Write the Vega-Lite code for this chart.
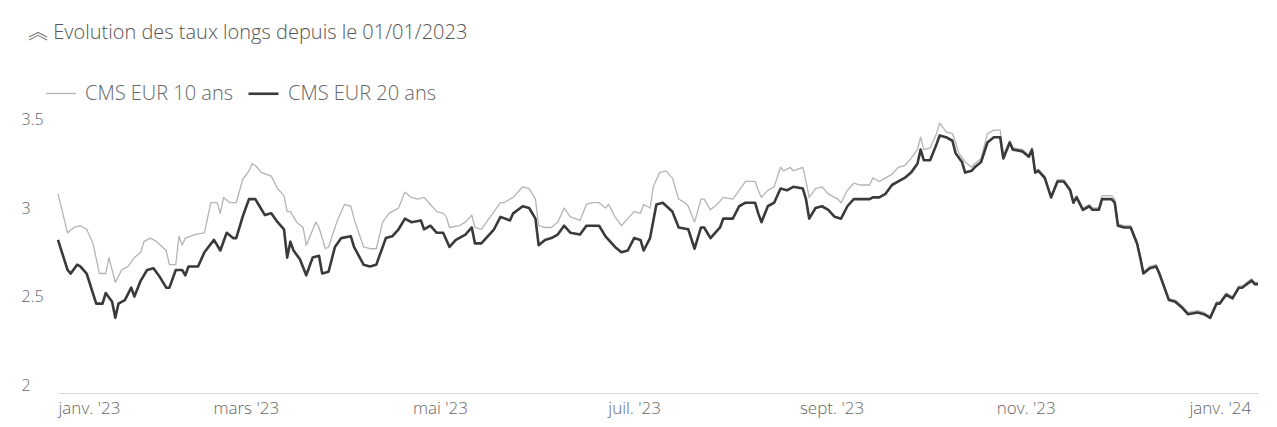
{
  "$schema": "https://vega.github.io/schema/vega-lite/v6.json",
  "width": 1200,
  "height": 288,
  "autosize": {"type": "none"},
  "padding": {"left": 58, "top": 105, "right": 19, "bottom": 34},
  "background": "white",
  "config": {"view": {"stroke": null}, "font": "Open Sans"},
  "title": {
    "text": "︽ Evolution des taux longs depuis le 01/01/2023",
    "anchor": "start",
    "dx": 7,
    "offset": 34,
    "font": "Open Sans, Noto Sans CJK SC",
    "fontSize": 20,
    "fontWeight": 300,
    "color": "#555555"
  },
  "data": {
    "values": [
      {"date": "2023-01-01", "serie": "10 ans", "taux": 3.08},
      {"date": "2023-01-04", "serie": "10 ans", "taux": 2.86},
      {"date": "2023-01-06", "serie": "10 ans", "taux": 2.89},
      {"date": "2023-01-08", "serie": "10 ans", "taux": 2.90},
      {"date": "2023-01-10", "serie": "10 ans", "taux": 2.88},
      {"date": "2023-01-12", "serie": "10 ans", "taux": 2.80},
      {"date": "2023-01-14", "serie": "10 ans", "taux": 2.63},
      {"date": "2023-01-16", "serie": "10 ans", "taux": 2.63},
      {"date": "2023-01-17", "serie": "10 ans", "taux": 2.72},
      {"date": "2023-01-19", "serie": "10 ans", "taux": 2.58},
      {"date": "2023-01-21", "serie": "10 ans", "taux": 2.65},
      {"date": "2023-01-23", "serie": "10 ans", "taux": 2.67},
      {"date": "2023-01-25", "serie": "10 ans", "taux": 2.72},
      {"date": "2023-01-27", "serie": "10 ans", "taux": 2.75},
      {"date": "2023-01-28", "serie": "10 ans", "taux": 2.81},
      {"date": "2023-01-30", "serie": "10 ans", "taux": 2.83},
      {"date": "2023-02-01", "serie": "10 ans", "taux": 2.81},
      {"date": "2023-02-04", "serie": "10 ans", "taux": 2.76},
      {"date": "2023-02-05", "serie": "10 ans", "taux": 2.68},
      {"date": "2023-02-07", "serie": "10 ans", "taux": 2.68},
      {"date": "2023-02-08", "serie": "10 ans", "taux": 2.84},
      {"date": "2023-02-09", "serie": "10 ans", "taux": 2.79},
      {"date": "2023-02-10", "serie": "10 ans", "taux": 2.83},
      {"date": "2023-02-13", "serie": "10 ans", "taux": 2.85},
      {"date": "2023-02-16", "serie": "10 ans", "taux": 2.86},
      {"date": "2023-02-18", "serie": "10 ans", "taux": 3.03},
      {"date": "2023-02-20", "serie": "10 ans", "taux": 3.03},
      {"date": "2023-02-21", "serie": "10 ans", "taux": 2.97},
      {"date": "2023-02-22", "serie": "10 ans", "taux": 3.06},
      {"date": "2023-02-24", "serie": "10 ans", "taux": 3.03},
      {"date": "2023-02-26", "serie": "10 ans", "taux": 3.03},
      {"date": "2023-02-28", "serie": "10 ans", "taux": 3.16},
      {"date": "2023-03-02", "serie": "10 ans", "taux": 3.21},
      {"date": "2023-03-03", "serie": "10 ans", "taux": 3.25},
      {"date": "2023-03-04", "serie": "10 ans", "taux": 3.24},
      {"date": "2023-03-06", "serie": "10 ans", "taux": 3.20},
      {"date": "2023-03-09", "serie": "10 ans", "taux": 3.18},
      {"date": "2023-03-11", "serie": "10 ans", "taux": 3.11},
      {"date": "2023-03-13", "serie": "10 ans", "taux": 3.07},
      {"date": "2023-03-14", "serie": "10 ans", "taux": 2.98},
      {"date": "2023-03-15", "serie": "10 ans", "taux": 2.98},
      {"date": "2023-03-17", "serie": "10 ans", "taux": 2.92},
      {"date": "2023-03-19", "serie": "10 ans", "taux": 2.89},
      {"date": "2023-03-20", "serie": "10 ans", "taux": 2.79},
      {"date": "2023-03-23", "serie": "10 ans", "taux": 2.92},
      {"date": "2023-03-24", "serie": "10 ans", "taux": 2.89},
      {"date": "2023-03-26", "serie": "10 ans", "taux": 2.77},
      {"date": "2023-03-27", "serie": "10 ans", "taux": 2.78},
      {"date": "2023-03-29", "serie": "10 ans", "taux": 2.89},
      {"date": "2023-03-30", "serie": "10 ans", "taux": 2.94},
      {"date": "2023-04-01", "serie": "10 ans", "taux": 3.02},
      {"date": "2023-04-03", "serie": "10 ans", "taux": 3.01},
      {"date": "2023-04-04", "serie": "10 ans", "taux": 2.94},
      {"date": "2023-04-07", "serie": "10 ans", "taux": 2.78},
      {"date": "2023-04-09", "serie": "10 ans", "taux": 2.77},
      {"date": "2023-04-11", "serie": "10 ans", "taux": 2.77},
      {"date": "2023-04-13", "serie": "10 ans", "taux": 2.92},
      {"date": "2023-04-15", "serie": "10 ans", "taux": 2.97},
      {"date": "2023-04-18", "serie": "10 ans", "taux": 3.00},
      {"date": "2023-04-20", "serie": "10 ans", "taux": 3.09},
      {"date": "2023-04-22", "serie": "10 ans", "taux": 3.06},
      {"date": "2023-04-24", "serie": "10 ans", "taux": 3.05},
      {"date": "2023-04-26", "serie": "10 ans", "taux": 3.06},
      {"date": "2023-04-28", "serie": "10 ans", "taux": 3.02},
      {"date": "2023-04-30", "serie": "10 ans", "taux": 2.98},
      {"date": "2023-05-02", "serie": "10 ans", "taux": 2.97},
      {"date": "2023-05-03", "serie": "10 ans", "taux": 2.95},
      {"date": "2023-05-04", "serie": "10 ans", "taux": 2.89},
      {"date": "2023-05-07", "serie": "10 ans", "taux": 2.90},
      {"date": "2023-05-09", "serie": "10 ans", "taux": 2.92},
      {"date": "2023-05-11", "serie": "10 ans", "taux": 2.96},
      {"date": "2023-05-12", "serie": "10 ans", "taux": 2.89},
      {"date": "2023-05-14", "serie": "10 ans", "taux": 2.88},
      {"date": "2023-05-16", "serie": "10 ans", "taux": 2.93},
      {"date": "2023-05-18", "serie": "10 ans", "taux": 2.98},
      {"date": "2023-05-20", "serie": "10 ans", "taux": 3.03},
      {"date": "2023-05-21", "serie": "10 ans", "taux": 3.03},
      {"date": "2023-05-24", "serie": "10 ans", "taux": 3.06},
      {"date": "2023-05-27", "serie": "10 ans", "taux": 3.12},
      {"date": "2023-05-29", "serie": "10 ans", "taux": 3.11},
      {"date": "2023-05-31", "serie": "10 ans", "taux": 3.05},
      {"date": "2023-06-01", "serie": "10 ans", "taux": 2.90},
      {"date": "2023-06-03", "serie": "10 ans", "taux": 2.89},
      {"date": "2023-06-05", "serie": "10 ans", "taux": 2.89},
      {"date": "2023-06-07", "serie": "10 ans", "taux": 2.92},
      {"date": "2023-06-09", "serie": "10 ans", "taux": 3.00},
      {"date": "2023-06-11", "serie": "10 ans", "taux": 2.95},
      {"date": "2023-06-14", "serie": "10 ans", "taux": 2.93},
      {"date": "2023-06-16", "serie": "10 ans", "taux": 3.02},
      {"date": "2023-06-18", "serie": "10 ans", "taux": 3.03},
      {"date": "2023-06-20", "serie": "10 ans", "taux": 3.03},
      {"date": "2023-06-22", "serie": "10 ans", "taux": 3.00},
      {"date": "2023-06-23", "serie": "10 ans", "taux": 3.02},
      {"date": "2023-06-25", "serie": "10 ans", "taux": 2.95},
      {"date": "2023-06-27", "serie": "10 ans", "taux": 2.90},
      {"date": "2023-06-29", "serie": "10 ans", "taux": 2.94},
      {"date": "2023-07-01", "serie": "10 ans", "taux": 2.98},
      {"date": "2023-07-03", "serie": "10 ans", "taux": 2.97},
      {"date": "2023-07-04", "serie": "10 ans", "taux": 3.02},
      {"date": "2023-07-06", "serie": "10 ans", "taux": 3.00},
      {"date": "2023-07-07", "serie": "10 ans", "taux": 3.12},
      {"date": "2023-07-09", "serie": "10 ans", "taux": 3.20},
      {"date": "2023-07-11", "serie": "10 ans", "taux": 3.21},
      {"date": "2023-07-13", "serie": "10 ans", "taux": 3.17},
      {"date": "2023-07-15", "serie": "10 ans", "taux": 3.05},
      {"date": "2023-07-17", "serie": "10 ans", "taux": 3.03},
      {"date": "2023-07-18", "serie": "10 ans", "taux": 3.01},
      {"date": "2023-07-20", "serie": "10 ans", "taux": 2.92},
      {"date": "2023-07-22", "serie": "10 ans", "taux": 3.05},
      {"date": "2023-07-23", "serie": "10 ans", "taux": 3.05},
      {"date": "2023-07-25", "serie": "10 ans", "taux": 2.99},
      {"date": "2023-07-27", "serie": "10 ans", "taux": 3.02},
      {"date": "2023-07-29", "serie": "10 ans", "taux": 3.06},
      {"date": "2023-08-01", "serie": "10 ans", "taux": 3.05},
      {"date": "2023-08-03", "serie": "10 ans", "taux": 3.10},
      {"date": "2023-08-05", "serie": "10 ans", "taux": 3.15},
      {"date": "2023-08-08", "serie": "10 ans", "taux": 3.15},
      {"date": "2023-08-09", "serie": "10 ans", "taux": 3.10},
      {"date": "2023-08-10", "serie": "10 ans", "taux": 3.06},
      {"date": "2023-08-12", "serie": "10 ans", "taux": 3.10},
      {"date": "2023-08-14", "serie": "10 ans", "taux": 3.12},
      {"date": "2023-08-16", "serie": "10 ans", "taux": 3.23},
      {"date": "2023-08-17", "serie": "10 ans", "taux": 3.21},
      {"date": "2023-08-19", "serie": "10 ans", "taux": 3.23},
      {"date": "2023-08-20", "serie": "10 ans", "taux": 3.21},
      {"date": "2023-08-23", "serie": "10 ans", "taux": 3.23},
      {"date": "2023-08-24", "serie": "10 ans", "taux": 3.15},
      {"date": "2023-08-25", "serie": "10 ans", "taux": 3.06},
      {"date": "2023-08-27", "serie": "10 ans", "taux": 3.11},
      {"date": "2023-08-29", "serie": "10 ans", "taux": 3.12},
      {"date": "2023-08-31", "serie": "10 ans", "taux": 3.08},
      {"date": "2023-09-03", "serie": "10 ans", "taux": 3.05},
      {"date": "2023-09-04", "serie": "10 ans", "taux": 3.03},
      {"date": "2023-09-06", "serie": "10 ans", "taux": 3.10},
      {"date": "2023-09-08", "serie": "10 ans", "taux": 3.14},
      {"date": "2023-09-10", "serie": "10 ans", "taux": 3.13},
      {"date": "2023-09-13", "serie": "10 ans", "taux": 3.13},
      {"date": "2023-09-14", "serie": "10 ans", "taux": 3.17},
      {"date": "2023-09-16", "serie": "10 ans", "taux": 3.15},
      {"date": "2023-09-18", "serie": "10 ans", "taux": 3.17},
      {"date": "2023-09-20", "serie": "10 ans", "taux": 3.19},
      {"date": "2023-09-22", "serie": "10 ans", "taux": 3.23},
      {"date": "2023-09-24", "serie": "10 ans", "taux": 3.24},
      {"date": "2023-09-26", "serie": "10 ans", "taux": 3.28},
      {"date": "2023-09-28", "serie": "10 ans", "taux": 3.33},
      {"date": "2023-09-29", "serie": "10 ans", "taux": 3.40},
      {"date": "2023-09-30", "serie": "10 ans", "taux": 3.33},
      {"date": "2023-10-02", "serie": "10 ans", "taux": 3.34},
      {"date": "2023-10-04", "serie": "10 ans", "taux": 3.42},
      {"date": "2023-10-05", "serie": "10 ans", "taux": 3.48},
      {"date": "2023-10-07", "serie": "10 ans", "taux": 3.43},
      {"date": "2023-10-09", "serie": "10 ans", "taux": 3.42},
      {"date": "2023-10-10", "serie": "10 ans", "taux": 3.37},
      {"date": "2023-10-11", "serie": "10 ans", "taux": 3.31},
      {"date": "2023-10-13", "serie": "10 ans", "taux": 3.26},
      {"date": "2023-10-15", "serie": "10 ans", "taux": 3.23},
      {"date": "2023-10-16", "serie": "10 ans", "taux": 3.25},
      {"date": "2023-10-18", "serie": "10 ans", "taux": 3.28},
      {"date": "2023-10-20", "serie": "10 ans", "taux": 3.42},
      {"date": "2023-10-22", "serie": "10 ans", "taux": 3.44},
      {"date": "2023-10-24", "serie": "10 ans", "taux": 3.44},
      {"date": "2023-10-25", "serie": "10 ans", "taux": 3.30},
      {"date": "2023-10-27", "serie": "10 ans", "taux": 3.38},
      {"date": "2023-10-28", "serie": "10 ans", "taux": 3.34},
      {"date": "2023-10-31", "serie": "10 ans", "taux": 3.33},
      {"date": "2023-11-02", "serie": "10 ans", "taux": 3.30},
      {"date": "2023-11-03", "serie": "10 ans", "taux": 3.34},
      {"date": "2023-11-04", "serie": "10 ans", "taux": 3.21},
      {"date": "2023-11-05", "serie": "10 ans", "taux": 3.22},
      {"date": "2023-11-07", "serie": "10 ans", "taux": 3.18},
      {"date": "2023-11-09", "serie": "10 ans", "taux": 3.07},
      {"date": "2023-11-11", "serie": "10 ans", "taux": 3.16},
      {"date": "2023-11-13", "serie": "10 ans", "taux": 3.16},
      {"date": "2023-11-15", "serie": "10 ans", "taux": 3.11},
      {"date": "2023-11-16", "serie": "10 ans", "taux": 3.04},
      {"date": "2023-11-17", "serie": "10 ans", "taux": 3.07},
      {"date": "2023-11-19", "serie": "10 ans", "taux": 3.00},
      {"date": "2023-11-21", "serie": "10 ans", "taux": 3.02},
      {"date": "2023-11-22", "serie": "10 ans", "taux": 3.00},
      {"date": "2023-11-24", "serie": "10 ans", "taux": 3.00},
      {"date": "2023-11-25", "serie": "10 ans", "taux": 3.07},
      {"date": "2023-11-28", "serie": "10 ans", "taux": 3.07},
      {"date": "2023-11-29", "serie": "10 ans", "taux": 3.05},
      {"date": "2023-11-30", "serie": "10 ans", "taux": 2.91},
      {"date": "2023-12-02", "serie": "10 ans", "taux": 2.90},
      {"date": "2023-12-04", "serie": "10 ans", "taux": 2.90},
      {"date": "2023-12-06", "serie": "10 ans", "taux": 2.81},
      {"date": "2023-12-07", "serie": "10 ans", "taux": 2.73},
      {"date": "2023-12-08", "serie": "10 ans", "taux": 2.64},
      {"date": "2023-12-10", "serie": "10 ans", "taux": 2.67},
      {"date": "2023-12-12", "serie": "10 ans", "taux": 2.68},
      {"date": "2023-12-13", "serie": "10 ans", "taux": 2.64},
      {"date": "2023-12-16", "serie": "10 ans", "taux": 2.49},
      {"date": "2023-12-18", "serie": "10 ans", "taux": 2.48},
      {"date": "2023-12-20", "serie": "10 ans", "taux": 2.45},
      {"date": "2023-12-22", "serie": "10 ans", "taux": 2.41},
      {"date": "2023-12-25", "serie": "10 ans", "taux": 2.42},
      {"date": "2023-12-27", "serie": "10 ans", "taux": 2.41},
      {"date": "2023-12-29", "serie": "10 ans", "taux": 2.39},
      {"date": "2023-12-31", "serie": "10 ans", "taux": 2.47},
      {"date": "2024-01-01", "serie": "10 ans", "taux": 2.47},
      {"date": "2024-01-03", "serie": "10 ans", "taux": 2.52},
      {"date": "2024-01-05", "serie": "10 ans", "taux": 2.50},
      {"date": "2024-01-07", "serie": "10 ans", "taux": 2.56},
      {"date": "2024-01-08", "serie": "10 ans", "taux": 2.56},
      {"date": "2024-01-11", "serie": "10 ans", "taux": 2.60},
      {"date": "2024-01-12", "serie": "10 ans", "taux": 2.58},
      {"date": "2024-01-13", "serie": "10 ans", "taux": 2.58},

      {"date": "2023-01-01", "serie": "20 ans", "taux": 2.82},
      {"date": "2023-01-04", "serie": "20 ans", "taux": 2.65},
      {"date": "2023-01-05", "serie": "20 ans", "taux": 2.63},
      {"date": "2023-01-07", "serie": "20 ans", "taux": 2.68},
      {"date": "2023-01-08", "serie": "20 ans", "taux": 2.67},
      {"date": "2023-01-10", "serie": "20 ans", "taux": 2.63},
      {"date": "2023-01-13", "serie": "20 ans", "taux": 2.46},
      {"date": "2023-01-15", "serie": "20 ans", "taux": 2.46},
      {"date": "2023-01-16", "serie": "20 ans", "taux": 2.52},
      {"date": "2023-01-18", "serie": "20 ans", "taux": 2.47},
      {"date": "2023-01-19", "serie": "20 ans", "taux": 2.38},
      {"date": "2023-01-20", "serie": "20 ans", "taux": 2.46},
      {"date": "2023-01-22", "serie": "20 ans", "taux": 2.48},
      {"date": "2023-01-24", "serie": "20 ans", "taux": 2.55},
      {"date": "2023-01-25", "serie": "20 ans", "taux": 2.50},
      {"date": "2023-01-27", "serie": "20 ans", "taux": 2.59},
      {"date": "2023-01-29", "serie": "20 ans", "taux": 2.65},
      {"date": "2023-01-31", "serie": "20 ans", "taux": 2.66},
      {"date": "2023-02-02", "serie": "20 ans", "taux": 2.61},
      {"date": "2023-02-04", "serie": "20 ans", "taux": 2.55},
      {"date": "2023-02-05", "serie": "20 ans", "taux": 2.55},
      {"date": "2023-02-07", "serie": "20 ans", "taux": 2.65},
      {"date": "2023-02-09", "serie": "20 ans", "taux": 2.65},
      {"date": "2023-02-10", "serie": "20 ans", "taux": 2.62},
      {"date": "2023-02-11", "serie": "20 ans", "taux": 2.67},
      {"date": "2023-02-14", "serie": "20 ans", "taux": 2.67},
      {"date": "2023-02-16", "serie": "20 ans", "taux": 2.75},
      {"date": "2023-02-19", "serie": "20 ans", "taux": 2.82},
      {"date": "2023-02-21", "serie": "20 ans", "taux": 2.76},
      {"date": "2023-02-23", "serie": "20 ans", "taux": 2.86},
      {"date": "2023-02-25", "serie": "20 ans", "taux": 2.83},
      {"date": "2023-02-26", "serie": "20 ans", "taux": 2.83},
      {"date": "2023-02-28", "serie": "20 ans", "taux": 2.95},
      {"date": "2023-03-02", "serie": "20 ans", "taux": 3.05},
      {"date": "2023-03-04", "serie": "20 ans", "taux": 3.05},
      {"date": "2023-03-05", "serie": "20 ans", "taux": 3.02},
      {"date": "2023-03-07", "serie": "20 ans", "taux": 2.96},
      {"date": "2023-03-09", "serie": "20 ans", "taux": 2.97},
      {"date": "2023-03-11", "serie": "20 ans", "taux": 2.92},
      {"date": "2023-03-13", "serie": "20 ans", "taux": 2.88},
      {"date": "2023-03-14", "serie": "20 ans", "taux": 2.72},
      {"date": "2023-03-15", "serie": "20 ans", "taux": 2.81},
      {"date": "2023-03-16", "serie": "20 ans", "taux": 2.76},
      {"date": "2023-03-18", "serie": "20 ans", "taux": 2.71},
      {"date": "2023-03-20", "serie": "20 ans", "taux": 2.62},
      {"date": "2023-03-22", "serie": "20 ans", "taux": 2.72},
      {"date": "2023-03-24", "serie": "20 ans", "taux": 2.73},
      {"date": "2023-03-25", "serie": "20 ans", "taux": 2.63},
      {"date": "2023-03-27", "serie": "20 ans", "taux": 2.64},
      {"date": "2023-03-29", "serie": "20 ans", "taux": 2.78},
      {"date": "2023-03-31", "serie": "20 ans", "taux": 2.83},
      {"date": "2023-04-03", "serie": "20 ans", "taux": 2.84},
      {"date": "2023-04-04", "serie": "20 ans", "taux": 2.78},
      {"date": "2023-04-07", "serie": "20 ans", "taux": 2.68},
      {"date": "2023-04-09", "serie": "20 ans", "taux": 2.67},
      {"date": "2023-04-11", "serie": "20 ans", "taux": 2.68},
      {"date": "2023-04-14", "serie": "20 ans", "taux": 2.83},
      {"date": "2023-04-16", "serie": "20 ans", "taux": 2.84},
      {"date": "2023-04-18", "serie": "20 ans", "taux": 2.88},
      {"date": "2023-04-20", "serie": "20 ans", "taux": 2.94},
      {"date": "2023-04-22", "serie": "20 ans", "taux": 2.92},
      {"date": "2023-04-25", "serie": "20 ans", "taux": 2.93},
      {"date": "2023-04-26", "serie": "20 ans", "taux": 2.88},
      {"date": "2023-04-28", "serie": "20 ans", "taux": 2.90},
      {"date": "2023-04-30", "serie": "20 ans", "taux": 2.86},
      {"date": "2023-05-02", "serie": "20 ans", "taux": 2.86},
      {"date": "2023-05-04", "serie": "20 ans", "taux": 2.78},
      {"date": "2023-05-06", "serie": "20 ans", "taux": 2.82},
      {"date": "2023-05-09", "serie": "20 ans", "taux": 2.85},
      {"date": "2023-05-11", "serie": "20 ans", "taux": 2.89},
      {"date": "2023-05-12", "serie": "20 ans", "taux": 2.80},
      {"date": "2023-05-14", "serie": "20 ans", "taux": 2.80},
      {"date": "2023-05-16", "serie": "20 ans", "taux": 2.84},
      {"date": "2023-05-18", "serie": "20 ans", "taux": 2.88},
      {"date": "2023-05-20", "serie": "20 ans", "taux": 2.95},
      {"date": "2023-05-23", "serie": "20 ans", "taux": 2.93},
      {"date": "2023-05-24", "serie": "20 ans", "taux": 2.97},
      {"date": "2023-05-27", "serie": "20 ans", "taux": 3.01},
      {"date": "2023-05-29", "serie": "20 ans", "taux": 3.00},
      {"date": "2023-05-31", "serie": "20 ans", "taux": 2.94},
      {"date": "2023-06-01", "serie": "20 ans", "taux": 2.79},
      {"date": "2023-06-03", "serie": "20 ans", "taux": 2.82},
      {"date": "2023-06-05", "serie": "20 ans", "taux": 2.83},
      {"date": "2023-06-07", "serie": "20 ans", "taux": 2.85},
      {"date": "2023-06-09", "serie": "20 ans", "taux": 2.90},
      {"date": "2023-06-11", "serie": "20 ans", "taux": 2.86},
      {"date": "2023-06-14", "serie": "20 ans", "taux": 2.85},
      {"date": "2023-06-16", "serie": "20 ans", "taux": 2.90},
      {"date": "2023-06-20", "serie": "20 ans", "taux": 2.90},
      {"date": "2023-06-22", "serie": "20 ans", "taux": 2.84},
      {"date": "2023-06-25", "serie": "20 ans", "taux": 2.78},
      {"date": "2023-06-27", "serie": "20 ans", "taux": 2.75},
      {"date": "2023-06-29", "serie": "20 ans", "taux": 2.76},
      {"date": "2023-07-01", "serie": "20 ans", "taux": 2.83},
      {"date": "2023-07-03", "serie": "20 ans", "taux": 2.82},
      {"date": "2023-07-04", "serie": "20 ans", "taux": 2.76},
      {"date": "2023-07-06", "serie": "20 ans", "taux": 2.83},
      {"date": "2023-07-08", "serie": "20 ans", "taux": 3.02},
      {"date": "2023-07-10", "serie": "20 ans", "taux": 3.03},
      {"date": "2023-07-13", "serie": "20 ans", "taux": 2.98},
      {"date": "2023-07-15", "serie": "20 ans", "taux": 2.89},
      {"date": "2023-07-18", "serie": "20 ans", "taux": 2.88},
      {"date": "2023-07-20", "serie": "20 ans", "taux": 2.77},
      {"date": "2023-07-22", "serie": "20 ans", "taux": 2.89},
      {"date": "2023-07-23", "serie": "20 ans", "taux": 2.89},
      {"date": "2023-07-25", "serie": "20 ans", "taux": 2.83},
      {"date": "2023-07-28", "serie": "20 ans", "taux": 2.89},
      {"date": "2023-07-29", "serie": "20 ans", "taux": 2.94},
      {"date": "2023-08-01", "serie": "20 ans", "taux": 2.94},
      {"date": "2023-08-03", "serie": "20 ans", "taux": 3.01},
      {"date": "2023-08-05", "serie": "20 ans", "taux": 3.03},
      {"date": "2023-08-08", "serie": "20 ans", "taux": 3.03},
      {"date": "2023-08-09", "serie": "20 ans", "taux": 2.97},
      {"date": "2023-08-10", "serie": "20 ans", "taux": 2.92},
      {"date": "2023-08-12", "serie": "20 ans", "taux": 3.01},
      {"date": "2023-08-14", "serie": "20 ans", "taux": 3.03},
      {"date": "2023-08-16", "serie": "20 ans", "taux": 3.11},
      {"date": "2023-08-18", "serie": "20 ans", "taux": 3.10},
      {"date": "2023-08-19", "serie": "20 ans", "taux": 3.11},
      {"date": "2023-08-20", "serie": "20 ans", "taux": 3.12},
      {"date": "2023-08-23", "serie": "20 ans", "taux": 3.11},
      {"date": "2023-08-24", "serie": "20 ans", "taux": 3.05},
      {"date": "2023-08-25", "serie": "20 ans", "taux": 2.94},
      {"date": "2023-08-27", "serie": "20 ans", "taux": 3.00},
      {"date": "2023-08-29", "serie": "20 ans", "taux": 3.01},
      {"date": "2023-08-31", "serie": "20 ans", "taux": 2.99},
      {"date": "2023-09-02", "serie": "20 ans", "taux": 2.95},
      {"date": "2023-09-04", "serie": "20 ans", "taux": 2.94},
      {"date": "2023-09-06", "serie": "20 ans", "taux": 3.01},
      {"date": "2023-09-08", "serie": "20 ans", "taux": 3.05},
      {"date": "2023-09-10", "serie": "20 ans", "taux": 3.05},
      {"date": "2023-09-13", "serie": "20 ans", "taux": 3.05},
      {"date": "2023-09-14", "serie": "20 ans", "taux": 3.06},
      {"date": "2023-09-16", "serie": "20 ans", "taux": 3.06},
      {"date": "2023-09-18", "serie": "20 ans", "taux": 3.08},
      {"date": "2023-09-20", "serie": "20 ans", "taux": 3.13},
      {"date": "2023-09-22", "serie": "20 ans", "taux": 3.15},
      {"date": "2023-09-24", "serie": "20 ans", "taux": 3.17},
      {"date": "2023-09-26", "serie": "20 ans", "taux": 3.20},
      {"date": "2023-09-28", "serie": "20 ans", "taux": 3.25},
      {"date": "2023-09-29", "serie": "20 ans", "taux": 3.33},
      {"date": "2023-09-30", "serie": "20 ans", "taux": 3.27},
      {"date": "2023-10-02", "serie": "20 ans", "taux": 3.27},
      {"date": "2023-10-04", "serie": "20 ans", "taux": 3.36},
      {"date": "2023-10-05", "serie": "20 ans", "taux": 3.41},
      {"date": "2023-10-07", "serie": "20 ans", "taux": 3.40},
      {"date": "2023-10-09", "serie": "20 ans", "taux": 3.38},
      {"date": "2023-10-10", "serie": "20 ans", "taux": 3.31},
      {"date": "2023-10-12", "serie": "20 ans", "taux": 3.26},
      {"date": "2023-10-13", "serie": "20 ans", "taux": 3.20},
      {"date": "2023-10-15", "serie": "20 ans", "taux": 3.21},
      {"date": "2023-10-16", "serie": "20 ans", "taux": 3.23},
      {"date": "2023-10-18", "serie": "20 ans", "taux": 3.26},
      {"date": "2023-10-20", "serie": "20 ans", "taux": 3.37},
      {"date": "2023-10-22", "serie": "20 ans", "taux": 3.40},
      {"date": "2023-10-24", "serie": "20 ans", "taux": 3.40},
      {"date": "2023-10-25", "serie": "20 ans", "taux": 3.28},
      {"date": "2023-10-27", "serie": "20 ans", "taux": 3.37},
      {"date": "2023-10-28", "serie": "20 ans", "taux": 3.33},
      {"date": "2023-10-31", "serie": "20 ans", "taux": 3.32},
      {"date": "2023-11-02", "serie": "20 ans", "taux": 3.29},
      {"date": "2023-11-03", "serie": "20 ans", "taux": 3.33},
      {"date": "2023-11-04", "serie": "20 ans", "taux": 3.20},
      {"date": "2023-11-05", "serie": "20 ans", "taux": 3.21},
      {"date": "2023-11-07", "serie": "20 ans", "taux": 3.17},
      {"date": "2023-11-09", "serie": "20 ans", "taux": 3.06},
      {"date": "2023-11-11", "serie": "20 ans", "taux": 3.15},
      {"date": "2023-11-13", "serie": "20 ans", "taux": 3.15},
      {"date": "2023-11-15", "serie": "20 ans", "taux": 3.10},
      {"date": "2023-11-16", "serie": "20 ans", "taux": 3.03},
      {"date": "2023-11-17", "serie": "20 ans", "taux": 3.06},
      {"date": "2023-11-19", "serie": "20 ans", "taux": 2.99},
      {"date": "2023-11-21", "serie": "20 ans", "taux": 3.01},
      {"date": "2023-11-22", "serie": "20 ans", "taux": 2.99},
      {"date": "2023-11-24", "serie": "20 ans", "taux": 2.99},
      {"date": "2023-11-25", "serie": "20 ans", "taux": 3.05},
      {"date": "2023-11-28", "serie": "20 ans", "taux": 3.05},
      {"date": "2023-11-29", "serie": "20 ans", "taux": 3.03},
      {"date": "2023-11-30", "serie": "20 ans", "taux": 2.90},
      {"date": "2023-12-02", "serie": "20 ans", "taux": 2.89},
      {"date": "2023-12-04", "serie": "20 ans", "taux": 2.89},
      {"date": "2023-12-06", "serie": "20 ans", "taux": 2.80},
      {"date": "2023-12-07", "serie": "20 ans", "taux": 2.72},
      {"date": "2023-12-08", "serie": "20 ans", "taux": 2.63},
      {"date": "2023-12-10", "serie": "20 ans", "taux": 2.66},
      {"date": "2023-12-12", "serie": "20 ans", "taux": 2.67},
      {"date": "2023-12-13", "serie": "20 ans", "taux": 2.63},
      {"date": "2023-12-16", "serie": "20 ans", "taux": 2.48},
      {"date": "2023-12-18", "serie": "20 ans", "taux": 2.47},
      {"date": "2023-12-20", "serie": "20 ans", "taux": 2.44},
      {"date": "2023-12-22", "serie": "20 ans", "taux": 2.40},
      {"date": "2023-12-25", "serie": "20 ans", "taux": 2.41},
      {"date": "2023-12-27", "serie": "20 ans", "taux": 2.40},
      {"date": "2023-12-29", "serie": "20 ans", "taux": 2.38},
      {"date": "2023-12-31", "serie": "20 ans", "taux": 2.46},
      {"date": "2024-01-01", "serie": "20 ans", "taux": 2.46},
      {"date": "2024-01-03", "serie": "20 ans", "taux": 2.51},
      {"date": "2024-01-05", "serie": "20 ans", "taux": 2.49},
      {"date": "2024-01-07", "serie": "20 ans", "taux": 2.55},
      {"date": "2024-01-08", "serie": "20 ans", "taux": 2.55},
      {"date": "2024-01-11", "serie": "20 ans", "taux": 2.59},
      {"date": "2024-01-12", "serie": "20 ans", "taux": 2.57},
      {"date": "2024-01-13", "serie": "20 ans", "taux": 2.57}
    ]
  },
  "mark": {"type": "line", "interpolate": "linear", "strokeJoin": "round"},
  "encoding": {
    "x": {
      "field": "date",
      "type": "temporal",
      "scale": {
        "type": "utc",
        "domain": [
          {"year": 2023, "month": 1, "date": 1, "utc": true},
          {"year": 2024, "month": 1, "date": 13, "utc": true}
        ]
      },
      "axis": {
        "title": null,
        "values": [
          {"year": 2023, "month": 1, "date": 1, "utc": true},
          {"year": 2023, "month": 3, "date": 1, "utc": true},
          {"year": 2023, "month": 5, "date": 1, "utc": true},
          {"year": 2023, "month": 7, "date": 1, "utc": true},
          {"year": 2023, "month": 9, "date": 1, "utc": true},
          {"year": 2023, "month": 11, "date": 1, "utc": true},
          {"year": 2024, "month": 1, "date": 1, "utc": true}
        ],
        "labelExpr": "['janv.','févr.','mars','avr.','mai','juin','juil.','août','sept.','oct.','nov.','déc.'][utcmonth(datum.value)] + \" '\" + utcFormat(datum.value, '%y')",
        "labelFlush": 1,
        "labelFont": "Open Sans",
        "labelFontWeight": 300,
        "labelFontSize": 17,
        "labelColor": "#666666",
        "labelPadding": 7,
        "ticks": false,
        "grid": false,
        "domainColor": "#d9d9d9",
        "domainWidth": 1
      }
    },
    "y": {
      "field": "taux",
      "type": "quantitative",
      "scale": {"domain": [1.955, 3.582], "nice": false, "zero": false},
      "axis": {
        "title": null,
        "values": [2, 2.5, 3, 3.5],
        "format": ".1~f",
        "labelAlign": "left",
        "labelBaseline": "middle",
        "labelPadding": 37,
        "labelFont": "Open Sans",
        "labelFontWeight": 300,
        "labelFontSize": 16,
        "labelColor": "#666666",
        "ticks": false,
        "domain": false,
        "grid": false
      }
    },
    "color": {
      "field": "serie",
      "type": "nominal",
      "scale": {"domain": ["10 ans", "20 ans"], "range": ["#b4b4b4", "#3a3a3a"]},
      "legend": {
        "title": null,
        "orient": "none",
        "legendX": -13,
        "legendY": -28,
        "direction": "horizontal",
        "symbolType": "stroke",
        "symbolSize": 900,
        "symbolStrokeWidth": 2,
        "labelExpr": "'CMS EUR ' + datum.label",
        "labelFont": "Open Sans",
        "labelFontWeight": 300,
        "labelFontSize": 20,
        "labelColor": "#666666",
        "labelOffset": 8,
        "columnPadding": 9
      }
    },
    "strokeWidth": {
      "field": "serie",
      "type": "nominal",
      "scale": {"domain": ["10 ans", "20 ans"], "range": [1.3, 2.6]},
      "legend": null
    }
  }
}
